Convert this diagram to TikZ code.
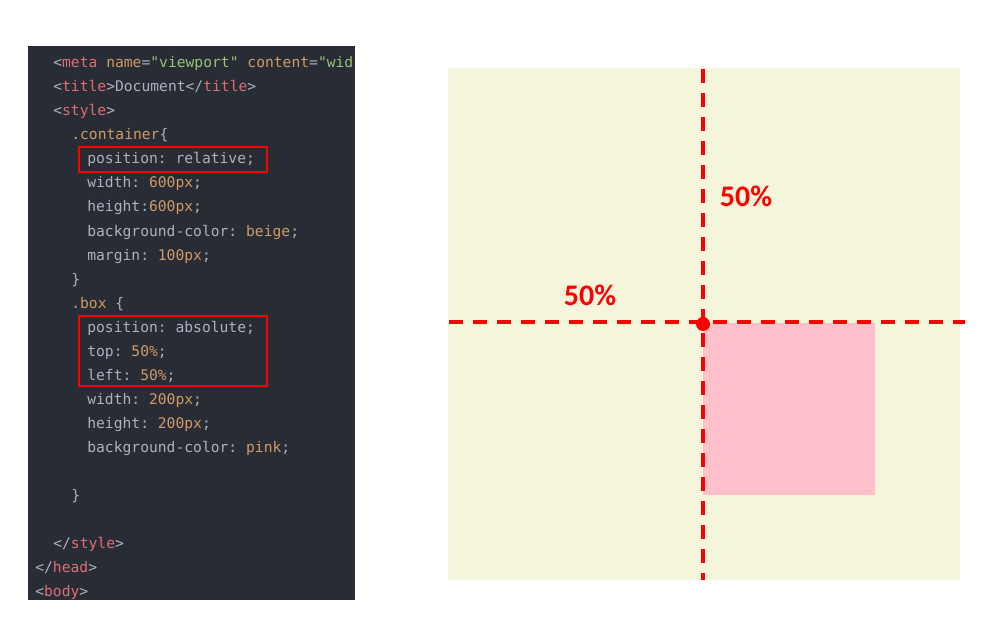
\documentclass[tikz,border=0pt]{standalone}
\usepackage{fontspec}
\setmonofont{DejaVu Sans Mono}
\newfontfamily\labelfont{Carlito}
\usepackage{tikz}

\definecolor{panelbg}{HTML}{282C34}
\definecolor{plaincol}{HTML}{ABB2BF}
\definecolor{tagcol}{HTML}{E06C75}
\definecolor{attrcol}{HTML}{D19A66}
\definecolor{strcol}{HTML}{98C379}
\definecolor{beigecol}{HTML}{F5F5DC}
\definecolor{pinkcol}{HTML}{FFC0CB}

\newcommand{\tg}[1]{\textcolor{tagcol}{#1}}
\newcommand{\at}[1]{\textcolor{attrcol}{#1}}
\newcommand{\st}[1]{\textcolor{strcol}{#1}}

\begin{document}
\begin{tikzpicture}[x = 0.02cm, y = -0.02cm,
                    code/.style = {anchor = base west, inner sep = 0pt, text = plaincol,
                                   font = \ttfamily\fontsize{8.34}{10}\selectfont},
                    markbox/.style = {draw = red, line width = 0.055cm},
                    guide/.style = {draw = red, line width = 0.075cm, dash pattern = on 0.28cm off 0.2cm},
                    dot/.style = {circle, fill = red, inner sep = 0pt, minimum size = 0.28cm},
                    pct/.style = {text = red, font = \labelfont\bfseries\fontsize{17}{20}\selectfont}]

\useasboundingbox (0,0) rectangle (988,642);

% code panel
\fill[panelbg] (28,46) rectangle (355,600);
\begin{scope}
\clip (28,46) rectangle (355,600);
\node[code] (l1) at (53,68) {<\tg{meta} \at{name}=\st{"viewport"} \at{content}=\st{"wid}};
\node[code] (l2) at (53,92) {<\tg{title}>Document</\tg{title}>};
\node[code] (l3) at (53,116) {<\tg{style}>};
\node[code] (l4) at (71,140) {\at{.container}\{};
\node[code] (l5) at (87,164) {position: relative;};
\node[code] (l6) at (87,188) {width: \at{600px};};
\node[code] (l7) at (87,212) {height:\at{600px};};
\node[code] (l8) at (87,236) {background-color: \at{beige};};
\node[code] (l9) at (87,260) {margin: \at{100px};};
\node[code] (l10) at (71,284) {\}};
\node[code] (l11) at (71,308) {\at{.box} \{};
\node[code] (l12) at (87,332) {position: absolute;};
\node[code] (l13) at (87,356) {top: \at{50\%};};
\node[code] (l14) at (87,380) {left: \at{50\%};};
\node[code] (l15) at (87,404) {width: \at{200px};};
\node[code] (l16) at (87,428) {height: \at{200px};};
\node[code] (l17) at (87,452) {background-color: \at{pink};};
\node[code] (l18) at (71,500) {\}};
\node[code] (l19) at (53,548) {</\tg{style}>};
\node[code] (l20) at (35,572) {</\tg{head}>};
\node[code] (l21) at (35,596) {<\tg{body}>};
\end{scope}

% highlighted rules
\draw[markbox] (79,147) rectangle (267,172);
\draw[markbox] (79,316) rectangle (267,386);

% container and box
\fill[beigecol] (448,68) rectangle (960,580);
\fill[pinkcol] (703,323) rectangle (875,495);

% 50% guides
\draw[guide] (703,69) -- (703,580);
\draw[guide] (449,322) -- (965,322);
\node[dot] (origin) at (703,324) {};

\node[pct] (topPct) at (746,196) {50\%};
\node[pct] (leftPct) at (590,295) {50\%};
\end{tikzpicture}
\end{document}
